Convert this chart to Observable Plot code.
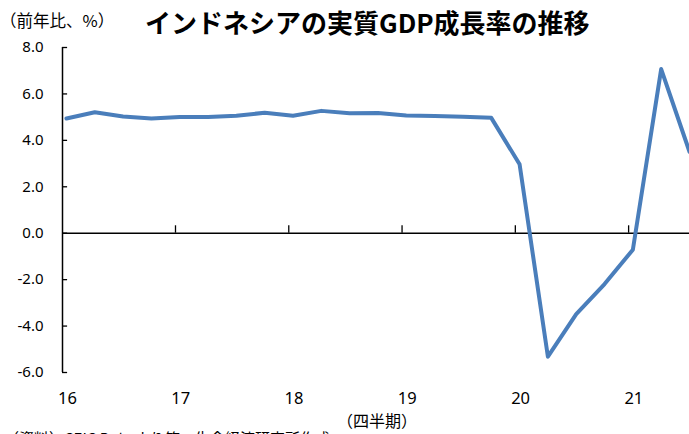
<!DOCTYPE html>
<html><head><meta charset="utf-8">
<script src="https://cdn.jsdelivr.net/npm/d3@7"></script>
<script src="https://cdn.jsdelivr.net/npm/@observablehq/plot@0.6"></script>
<style>
html,body{margin:0;padding:0;background:#fff;overflow:hidden;}
#wrap{position:relative;width:689px;height:434px;overflow:hidden;font-family:"Noto Sans CJK JP","Noto Sans",sans-serif;color:#000;}
#unit{position:absolute;left:0px;top:8px;font-size:16.5px;white-space:nowrap;}
#title{position:absolute;left:145px;top:3px;font-size:26px;font-weight:bold;white-space:nowrap;}
#chart{position:absolute;left:0;top:0;}
#xlab{position:absolute;left:337px;top:408px;font-size:16px;white-space:nowrap;}
#cap{position:absolute;left:4px;top:427px;font-size:15px;white-space:nowrap;}
</style></head>
<body><div id="wrap">
<div id="chart"></div>
<div id="unit">（前年比、%）</div>
<div id="title">インドネシアの実質GDP成長率の推移</div>
<div id="xlab">（四半期）</div>
<div id="cap">（資料）CEIC Data より第一生命経済研究所作成</div>
</div>
<script>
const quarters = ["16Q1","16Q2","16Q3","16Q4","17Q1","17Q2","17Q3","17Q4","18Q1","18Q2","18Q3","18Q4","19Q1","19Q2","19Q3","19Q4","20Q1","20Q2","20Q3","20Q4","21Q1","21Q2","21Q3"];
const growth = [4.94,5.21,5.03,4.94,5.01,5.01,5.06,5.19,5.06,5.27,5.17,5.18,5.07,5.05,5.02,4.97,2.97,-5.32,-3.49,-2.19,-0.71,7.07,3.51];
const yearLabels = ["16","17","18","19","20","21"];
const yTicks = [-6,-4,-2,0,2,4,6,8];

const data = quarters.map((q,i)=>({i, q, v: growth[i]}));
const yearIdx = yearLabels.map((y,k)=>k*4);
const x0 = -0.14;

const plot = Plot.plot({
  width: 689, height: 410,
  marginLeft: 62, marginRight: 0, marginTop: 47, marginBottom: 38,
  style: {fontFamily: '"Noto Sans","Noto Sans CJK JP",sans-serif', fontSize: "15px", color: "#000", background: "transparent"},
  x: {domain: [x0, 22]},
  y: {domain: [-6, 8]},
  marks: [
    Plot.axisY(yTicks, {tickSize: 0, tickPadding: 19, tickFormat: d => d.toFixed(1), label: null, fontSize: 15}),
    Plot.axisX(yearIdx, {tickSize: 0, tickPadding: 20, tickFormat: (d,k) => yearLabels[k], label: null, fontSize: 16.5, dx: 1}),
    Plot.ruleY(yTicks, {x1: x0, x2: x0 + 0.18, stroke: "#000", strokeWidth: 1.3}),
    Plot.ruleX(yearIdx.slice(1), {x: d => d - 0.15, y1: 0, y2: 0.32, stroke: "#000", strokeWidth: 1.3}),
    Plot.ruleY([0], {stroke: "#000", strokeWidth: 1.5}),
    Plot.ruleX([x0], {stroke: "#000", strokeWidth: 1.5}),
    Plot.line(data, {x: "i", y: "v", stroke: "#4a7ebb", strokeWidth: 4, strokeLinejoin: "round"})
  ]
});
document.getElementById("chart").appendChild(plot);
</script>
</body></html>
